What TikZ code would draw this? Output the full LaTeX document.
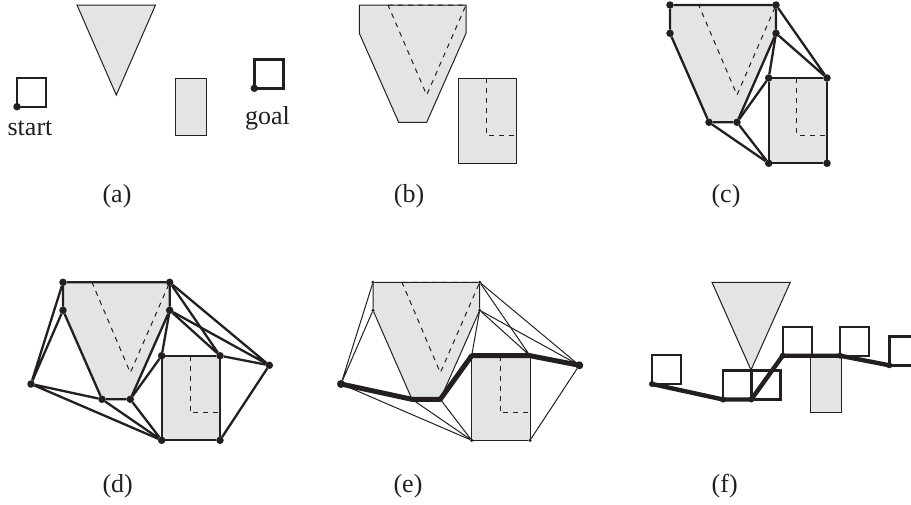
\documentclass[tikz,border=0pt]{standalone}
\usepackage{fontspec}
\setmainfont{Liberation Serif}
\usetikzlibrary{
  positioning,
  backgrounds
}
\definecolor{InkBlack}{RGB}{35,31,32}
\definecolor{ObstacleGray}{RGB}{227,228,230}
\tikzset{
  obstacle/.style={draw=InkBlack,fill=ObstacleGray,line width=1pt,line join=miter},
  cspace/.style={fill=ObstacleGray},
  original/.style={draw=InkBlack,line width=1pt,dash pattern=on 5pt off 5pt},
  robot/.style={draw=InkBlack,line width=2.4pt,minimum size=29pt,inner sep=0pt,outer sep=0pt,anchor=south west},
  vertex/.style={circle,fill=InkBlack,inner sep=0pt,outer sep=0pt,minimum size=7.5pt},
  tinyvertex/.style={circle,fill=InkBlack,inner sep=0pt,outer sep=0pt,minimum size=3.5pt},
  bigvertex/.style={circle,fill=InkBlack,inner sep=0pt,outer sep=0pt,minimum size=8pt},
  vgedge/.style={draw=InkBlack,line width=2.3pt},
  thinedge/.style={draw=InkBlack,line width=1pt},
  solution/.style={draw=InkBlack,line width=5pt,line join=round},
  caption/.style={font=\fontsize{26}{30}\selectfont,text=InkBlack,inner sep=0pt}
}
\begin{document}
\begin{tikzpicture}[x=1pt,y=-1pt]
\useasboundingbox (0,0) rectangle (911,504);
% (a)
\draw[obstacle] (77,5) -- (155.5,5) -- (116.3,95) -- cycle;
\draw[obstacle] (175.7,78) rectangle (206.3,135);
\node[vertex] (startdot) at (17,106.7) {};
\node[robot] (startbox) at (startdot.center) {};
\node[caption] (startlabel) at (30,128) {start};
\node[vertex] (goaldot) at (254.3,88.3) {};
\node[robot] (goalbox) at (goaldot.center) {};
\node[caption] (goallabel) at (267.5,118) {goal};
\node[caption] (capa) at (117,196) {(a)};
% (b)
\draw[obstacle] (359.3,5) -- (466,5) -- (466,33.3) -- (426.7,122.3) -- (398.7,122.3) -- (359.3,33.3) -- cycle;
\draw[obstacle] (458,78) rectangle (516.7,163.3);
\draw[original] (388,5) -- (466,5) -- (426.7,95) -- cycle;
\draw[original] (486,78) -- (486,135) -- (516.7,135);
\node[caption] (capb) at (409,196) {(b)};
% (c)
\node[vertex] (cA) at (670,5) {};
\node[vertex] (cB) at (776,5) {};
\node[vertex] (cC) at (776,33.3) {};
\node[vertex] (cD) at (737,122.3) {};
\node[vertex] (cE) at (709,122.3) {};
\node[vertex] (cF) at (670,33.3) {};
\node[vertex] (cG) at (768.7,78) {};
\node[vertex] (cH) at (827,78) {};
\node[vertex] (cI) at (827,163.3) {};
\node[vertex] (cJ) at (768.7,163.3) {};
\begin{scope}[on background layer]
\fill[cspace] (cA.center) -- (cB.center) -- (cC.center) -- (cD.center) -- (cE.center) -- (cF.center) -- cycle;
\fill[cspace] (cG.center) -- (cH.center) -- (cI.center) -- (cJ.center) -- cycle;
\end{scope}
\draw[original] (698.7,5) -- (776,5) -- (737,95) -- cycle;
\draw[original] (796.7,78) -- (796.7,135) -- (827,135);
\draw[vgedge] (cA) -- (cB) -- (cC) -- (cD) -- (cE) -- (cF) -- (cA);
\draw[vgedge] (cG) -- (cH) -- (cI) -- (cJ) -- (cG);
\draw[vgedge] (cB) -- (cH) -- (cC) -- (cG) -- (cD) -- (cJ) -- (cE);
\node[caption] (capc) at (726,196) {(c)};
% (d)
\node[vertex] (dA) at (63,282.3) {};
\node[vertex] (dB) at (169.7,282.3) {};
\node[vertex] (dC) at (169.7,310.3) {};
\node[vertex] (dD) at (130.3,399.3) {};
\node[vertex] (dE) at (102,399.3) {};
\node[vertex] (dF) at (63,310.3) {};
\node[vertex] (dG) at (161.7,355.7) {};
\node[vertex] (dH) at (220,355.7) {};
\node[vertex] (dI) at (220,440.3) {};
\node[vertex] (dJ) at (161.7,440.3) {};
\node[vertex] (dS) at (31,384) {};
\node[vertex] (dT) at (269.3,365.3) {};
\begin{scope}[on background layer]
\fill[cspace] (dA.center) -- (dB.center) -- (dC.center) -- (dD.center) -- (dE.center) -- (dF.center) -- cycle;
\fill[cspace] (dG.center) -- (dH.center) -- (dI.center) -- (dJ.center) -- cycle;
\end{scope}
\draw[original] (92,282.3) -- (169.7,282.3) -- (130.3,372.7) -- cycle;
\draw[original] (190,355.7) -- (190,412.3) -- (220,412.3);
\draw[vgedge] (dA) -- (dB) -- (dC) -- (dD) -- (dE) -- (dF) -- (dA);
\draw[vgedge] (dG) -- (dH) -- (dI) -- (dJ) -- (dG);
\draw[vgedge] (dB) -- (dH) -- (dC) -- (dG) -- (dD) -- (dJ) -- (dE);
\draw[vgedge] (dA) -- (dS) -- (dF);
\draw[vgedge] (dE) -- (dS) -- (dJ);
\draw[vgedge] (dB) -- (dT) -- (dC);
\draw[vgedge] (dH) -- (dT) -- (dI);
\node[caption] (capd) at (117.7,486) {(d)};
% (e)
\node[tinyvertex] (eA) at (373,282.3) {};
\node[tinyvertex] (eB) at (479.7,282.3) {};
\node[tinyvertex] (eC) at (479.7,310.3) {};
\node[tinyvertex] (eD) at (440.3,399.3) {};
\node[tinyvertex] (eE) at (412,399.3) {};
\node[tinyvertex] (eF) at (373,310.3) {};
\node[tinyvertex] (eG) at (471.7,355.7) {};
\node[tinyvertex] (eH) at (530,355.7) {};
\node[tinyvertex] (eI) at (530,440.3) {};
\node[tinyvertex] (eJ) at (471.7,440.3) {};
\node[bigvertex] (eS) at (341,384) {};
\node[bigvertex] (eT) at (579.3,365.3) {};
\begin{scope}[on background layer]
\fill[cspace] (eA.center) -- (eB.center) -- (eC.center) -- (eD.center) -- (eE.center) -- (eF.center) -- cycle;
\fill[cspace] (eG.center) -- (eH.center) -- (eI.center) -- (eJ.center) -- cycle;
\end{scope}
\draw[original] (402,282.3) -- (479.7,282.3) -- (440.3,372.7) -- cycle;
\draw[original] (500,355.7) -- (500,412.3) -- (530,412.3);
\draw[thinedge] (eA) -- (eB) -- (eC) -- (eD) -- (eE) -- (eF) -- (eA);
\draw[thinedge] (eG) -- (eH) -- (eI) -- (eJ) -- (eG);
\draw[thinedge] (eB) -- (eH) -- (eC) -- (eG) -- (eD) -- (eJ) -- (eE);
\draw[thinedge] (eA) -- (eS) -- (eF);
\draw[thinedge] (eE) -- (eS) -- (eJ);
\draw[thinedge] (eB) -- (eT) -- (eC);
\draw[thinedge] (eH) -- (eT) -- (eI);
\draw[solution] (eS.center) -- (eE.center) -- (eD.center) -- (eG.center) -- (eH.center) -- (eT.center);
\node[caption] (cape) at (408,486) {(e)};
% (f)
\draw[obstacle] (712,282.3) -- (790.3,282.3) -- (751,370) -- cycle;
\draw[obstacle] (810.7,355.7) rectangle (841.3,412.7);
\node[tinyvertex,minimum size=6pt] (fS) at (652,384) {};
\node[tinyvertex,minimum size=6pt] (fE) at (723,399.5) {};
\node[tinyvertex,minimum size=6pt] (fD) at (751.3,399.5) {};
\node[tinyvertex,minimum size=6pt] (fG) at (782.7,355.7) {};
\node[tinyvertex,minimum size=6pt] (fH) at (840,355.7) {};
\node[tinyvertex,minimum size=6pt] (fT) at (889.3,365.3) {};
\node[robot] (fboxS) at (fS.center) {};
\node[robot] (fboxE) at (fE.center) {};
\node[robot] (fboxD) at (fD.center) {};
\node[robot] (fboxG) at (fG.center) {};
\node[robot] (fboxH) at (fH.center) {};
\node[robot] (fboxT) at (fT.center) {};
\draw[solution,line width=4.4pt] (fS.center) -- (fE.center) -- (fD.center) -- (fG.center) -- (fH.center) -- (fT.center);
\node[caption] (capf) at (724.7,486) {(f)};
\end{tikzpicture}
\end{document}
